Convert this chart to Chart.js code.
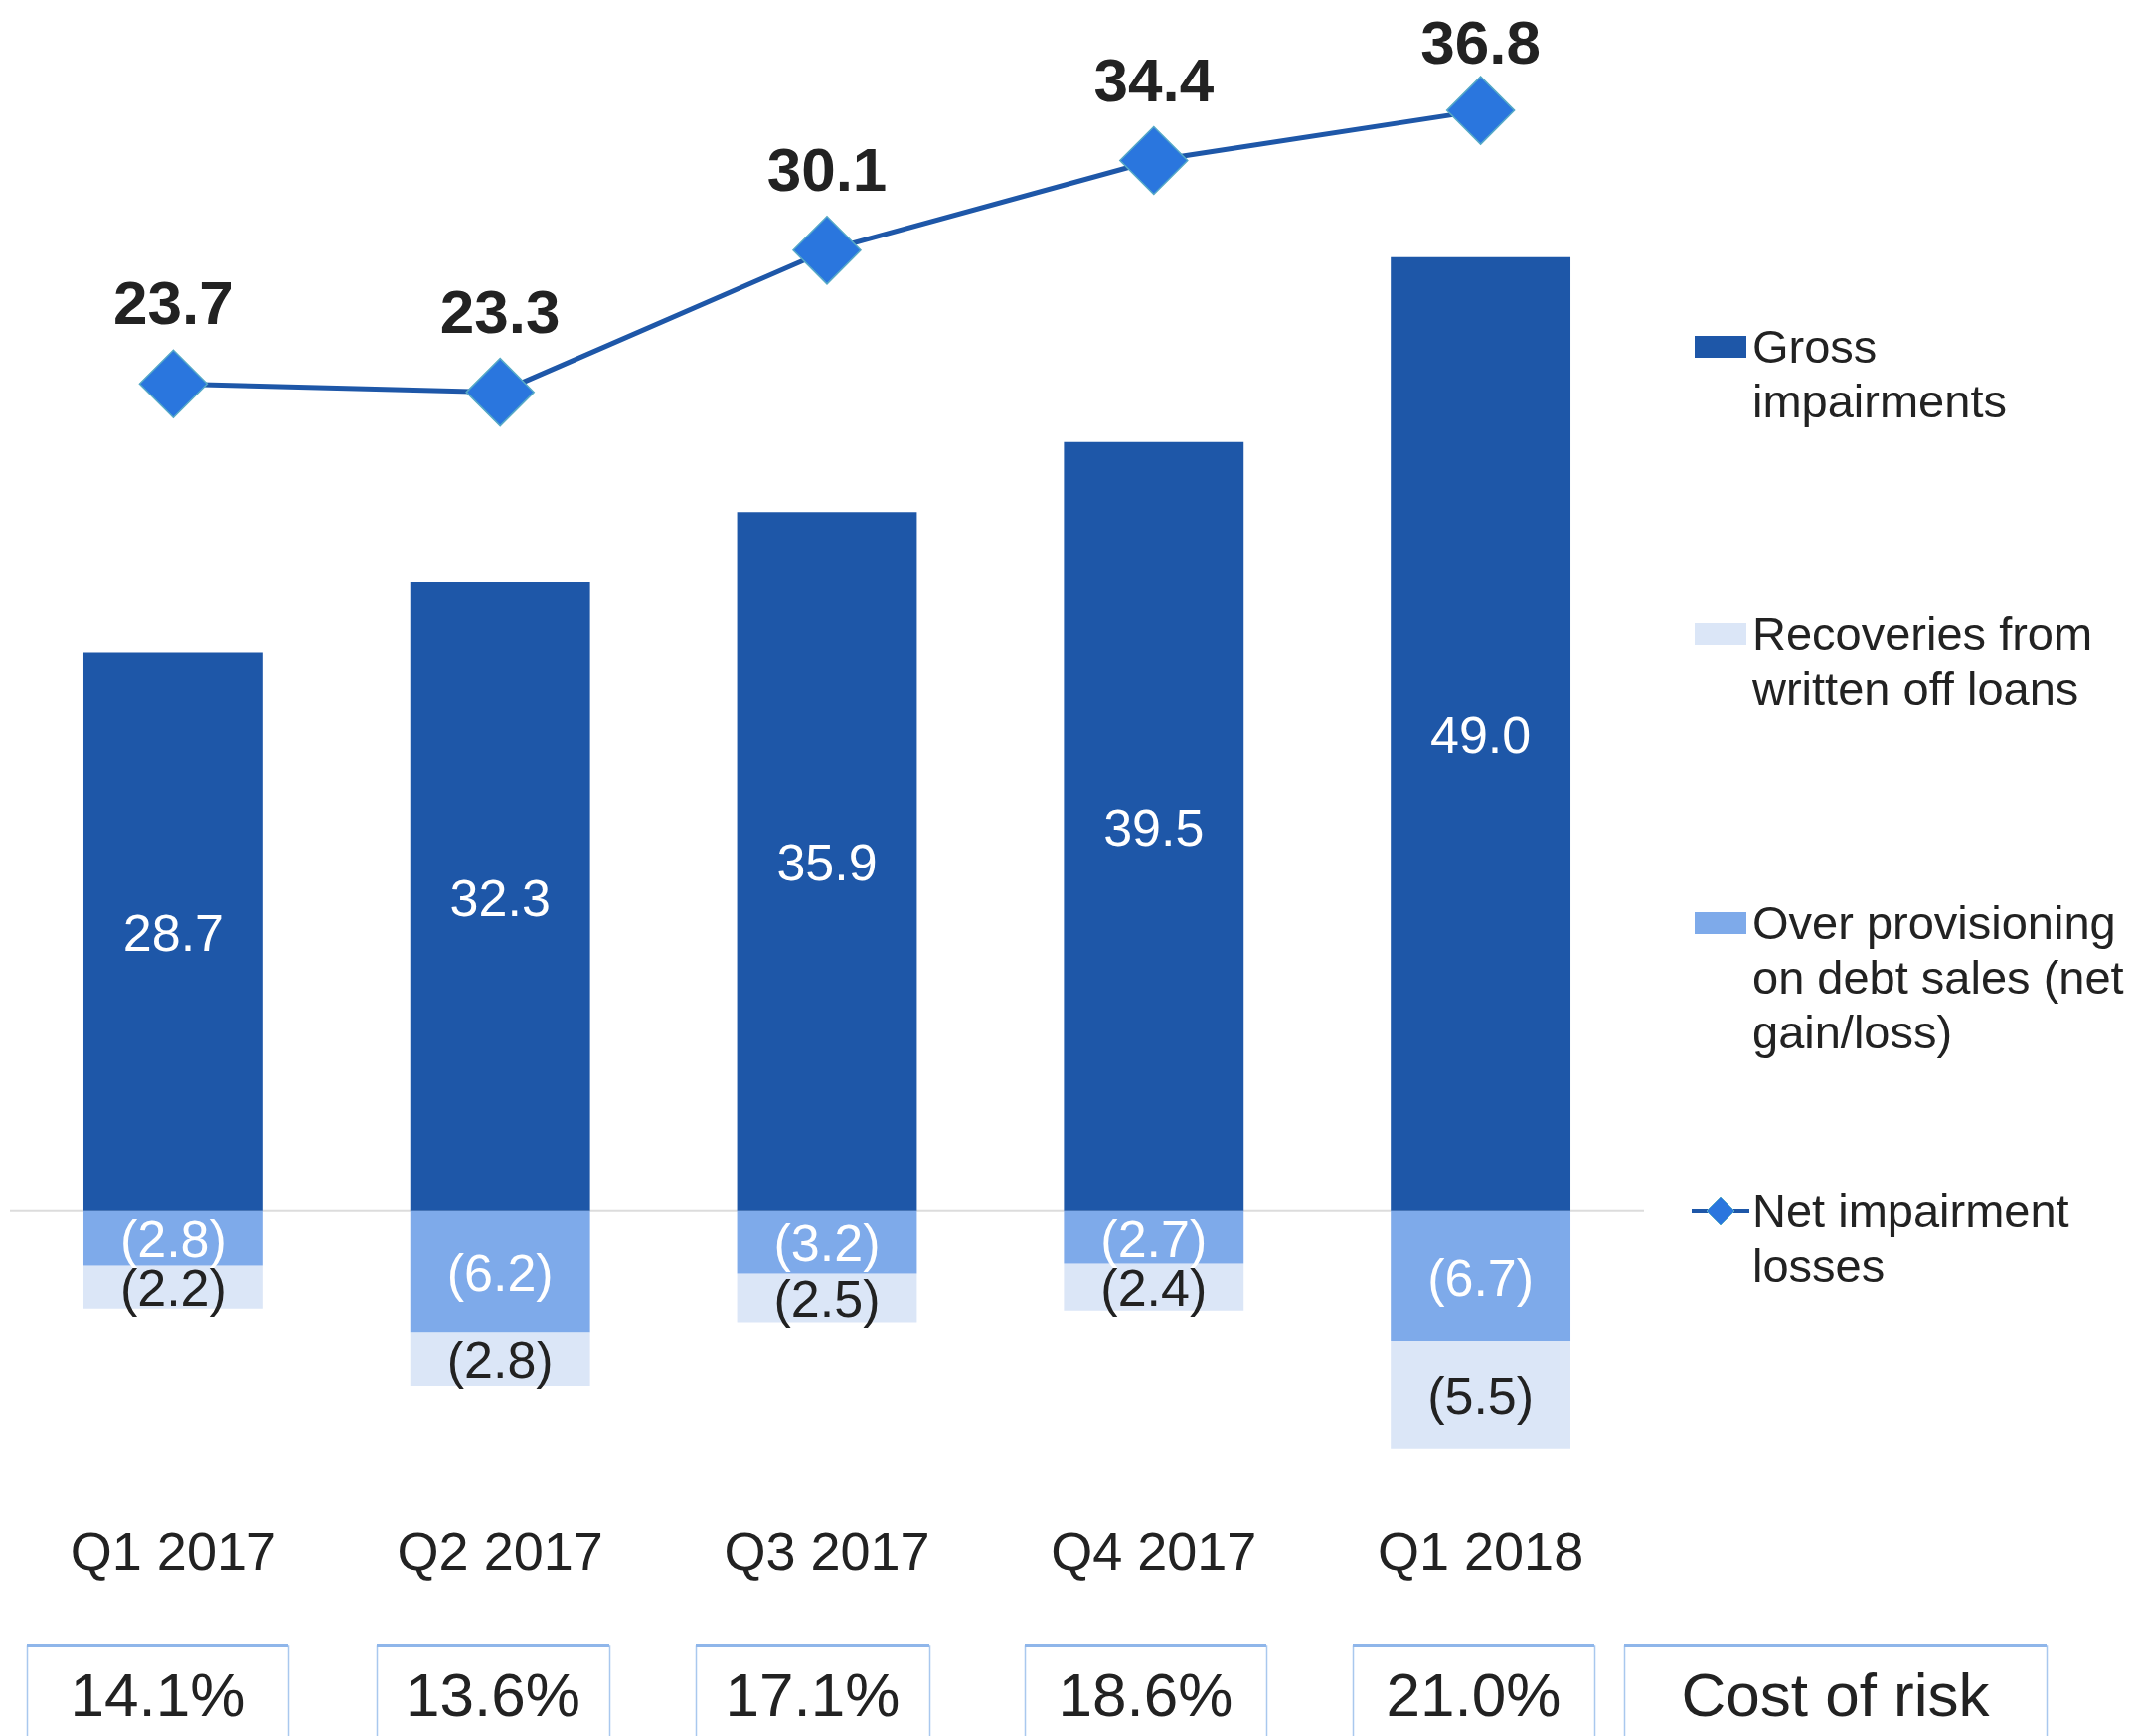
<!DOCTYPE html>
<html lang="en">
<head>
  <meta charset="UTF-8">
  <title>Impairments by quarter</title>
  <script src="https://cdn.jsdelivr.net/npm/chart.js"></script>
  <style>
    body { margin: 0; background: #fff; }
    canvas { display: block; }
  </style>
</head>
<body>
  <canvas id="impChart" width="2152" height="1747"></canvas>
  <script>
    // Data
    const quarters = ["Q1 2017", "Q2 2017", "Q3 2017", "Q4 2017", "Q1 2018"];
    const grossImpairments = [28.7, 32.3, 35.9, 39.5, 49.0];
    const overProvisioning = [-2.8, -6.2, -3.2, -2.7, -6.7];
    const recoveries = [-2.2, -2.8, -2.5, -2.4, -5.5];
    const netImpairment = [23.7, 23.3, 30.1, 34.4, 36.8];
    const costOfRisk = ["14.1%", "13.6%", "17.1%", "18.6%", "21.0%"];

    const FONT = '"Liberation Sans", Arial, sans-serif';
    const TEXT = '#222222';
    const DARK = '#1e57a8';
    const MID = '#7eaaea';
    const LIGHT = '#dbe6f7';
    const MARKER = '#2a76de';

    // cost of risk boxes (left, right) in page pixels
    const boxEdges = [[27, 290], [379, 613], [700, 935], [1031, 1274], [1361, 1604], [1634, 2059]];

    const fmt = v => v < 0 ? '(' + Math.abs(v).toFixed(1) + ')' : v.toFixed(1);

    const extras = {
      id: 'extras',
      beforeDatasetsDraw(chart) {
        const { ctx, chartArea, scales } = chart;
        const y0 = scales.y.getPixelForValue(0);
        ctx.save();
        ctx.strokeStyle = '#dcdcdc';
        ctx.lineWidth = 2;
        ctx.beginPath();
        ctx.moveTo(chartArea.left, y0);
        ctx.lineTo(chartArea.right, y0);
        ctx.stroke();
        ctx.restore();
      },
      afterDatasetsDraw(chart) {
        const { ctx, scales } = chart;
        ctx.save();
        ctx.textAlign = 'center';
        ctx.textBaseline = 'middle';

        // bar labels
        const barColors = ['#ffffff', '#ffffff', TEXT];
        [0, 1, 2].forEach(di => {
          const meta = chart.getDatasetMeta(di);
          const vals = chart.data.datasets[di].data;
          ctx.fillStyle = barColors[di];
          ctx.font = '52px ' + FONT;
          meta.data.forEach((el, i) => {
            ctx.fillText(fmt(vals[i]), el.x, (el.y + el.base) / 2 + 5);
          });
        });

        // line labels
        const lineMeta = chart.getDatasetMeta(3);
        ctx.fillStyle = TEXT;
        ctx.font = 'bold 62px ' + FONT;
        lineMeta.data.forEach((pt, i) => {
          ctx.fillText(fmt(netImpairment[i]), pt.x, Math.max(pt.y - 77, 47));
        });

        // category labels
        ctx.font = '54px ' + FONT;
        quarters.forEach((q, i) => {
          ctx.fillText(q, scales.x.getPixelForValue(i), 1565);
        });

        // cost of risk boxes
        const boxTexts = costOfRisk.concat(['Cost of risk']);
        boxEdges.forEach((b, i) => {
          ctx.strokeStyle = '#a9c8ee';
          ctx.lineWidth = 1.5;
          ctx.strokeRect(b[0] + 0.5, 1656, b[1] - b[0], 120);
          ctx.fillStyle = '#8fb6ea';
          ctx.fillRect(b[0], 1654, b[1] - b[0], 3);
          ctx.fillStyle = TEXT;
          ctx.font = '62px ' + FONT;
          ctx.fillText(boxTexts[i], (b[0] + b[1]) / 2, 1710);
        });

        // legend
        ctx.textAlign = 'left';
        ctx.font = '47px ' + FONT;
        const legend = [
          { color: DARK, lines: ['Gross', 'impairments'], y: 349 },
          { color: LIGHT, lines: ['Recoveries from', 'written off loans'], y: 638 },
          { color: MID, lines: ['Over provisioning', 'on debt sales (net', 'gain/loss)'], y: 929 },
          { line: true, lines: ['Net impairment', 'losses'], y: 1219 }
        ];
        legend.forEach(item => {
          if (item.line) {
            ctx.strokeStyle = DARK;
            ctx.lineWidth = 4;
            ctx.beginPath();
            ctx.moveTo(1702, item.y);
            ctx.lineTo(1760, item.y);
            ctx.stroke();
            ctx.fillStyle = MARKER;
            ctx.strokeStyle = '#55a9c6';
            ctx.lineWidth = 1;
            ctx.beginPath();
            ctx.moveTo(1731 - 14, item.y);
            ctx.lineTo(1731, item.y - 14);
            ctx.lineTo(1731 + 14, item.y);
            ctx.lineTo(1731, item.y + 14);
            ctx.closePath();
            ctx.fill();
            ctx.stroke();
          } else {
            ctx.fillStyle = item.color;
            ctx.fillRect(1705, item.y - 11, 52, 22);
          }
          ctx.fillStyle = TEXT;
          item.lines.forEach((t, k) => ctx.fillText(t, 1763, item.y + 3 + k * 55));
        });
        ctx.restore();
      }
    };

    const ctx = document.getElementById('impChart').getContext('2d');
    const impChart = new Chart(ctx, {
      type: 'bar',
      data: {
        labels: quarters,
        datasets: [
          { label: 'Gross impairments', data: grossImpairments, backgroundColor: DARK, stack: 's', order: 1 },
          { label: 'Over provisioning on debt sales (net gain/loss)', data: overProvisioning, backgroundColor: MID, stack: 's', order: 1 },
          { label: 'Recoveries from written off loans', data: recoveries, backgroundColor: LIGHT, stack: 's', order: 1 },
          {
            type: 'line',
            label: 'Net impairment losses',
            data: netImpairment,
            yAxisID: 'y2',
            order: 0,
            clip: false,
            borderColor: DARK,
            borderWidth: 5,
            pointStyle: 'rectRot',
            pointRadius: 34,
            pointBackgroundColor: MARKER,
            pointBorderColor: '#55a9c6',
            pointBorderWidth: 1.5,
            tension: 0
          }
        ]
      },
      options: {
        responsive: false,
        animation: false,
        devicePixelRatio: 1,
        layout: { autoPadding: false, padding: { left: 10, right: 498, top: 4, bottom: 254 } },
        datasets: { bar: { categoryPercentage: 1, barPercentage: 0.55 } },
        scales: {
          x: { display: false, stacked: true },
          y: { display: false, stacked: true, min: -14, max: 62 },
          y2: { display: false, min: -29.0, max: 41.9 }
        },
        plugins: {
          legend: { display: false },
          tooltip: { enabled: false }
        }
      },
      plugins: [extras]
    });
  </script>
</body>
</html>
